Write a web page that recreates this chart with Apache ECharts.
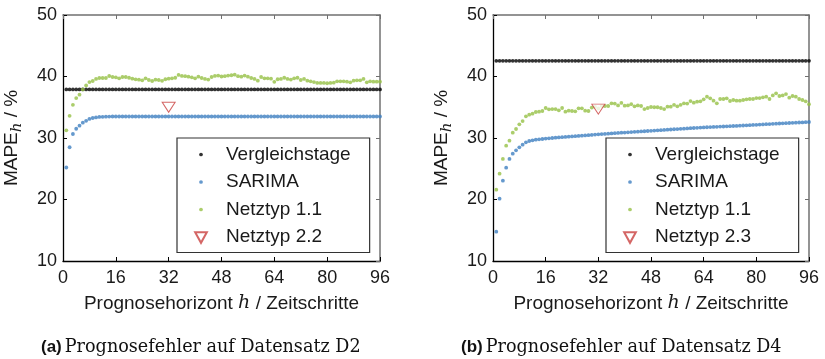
<!DOCTYPE html>
<html>
<head>
<meta charset="utf-8">
<script src="https://cdn.jsdelivr.net/npm/echarts@6/dist/echarts.min.js"></script>
<style>
  html, body { margin: 0; padding: 0; background: #fff; }
  #main { width: 825px; height: 359px; }
</style>
</head>
<body>
<div id="main"></div>
<script>
// Prognosehorizont h = 1..96 (x positions of the points)
const horizon = [];
for (let h = 1; h <= 96; h++) horizon.push(h);

// ---- (a) Datensatz D2 ----
const vergleichD2 = [
  37.9,37.9,37.9,37.9,37.9,37.9,37.9,37.9,37.9,37.9,37.9,37.9,37.9,37.9,37.9,37.9,
  37.9,37.9,37.9,37.9,37.9,37.9,37.9,37.9,37.9,37.9,37.9,37.9,37.9,37.9,37.9,37.9,
  37.9,37.9,37.9,37.9,37.9,37.9,37.9,37.9,37.9,37.9,37.9,37.9,37.9,37.9,37.9,37.9,
  37.9,37.9,37.9,37.9,37.9,37.9,37.9,37.9,37.9,37.9,37.9,37.9,37.9,37.9,37.9,37.9,
  37.9,37.9,37.9,37.9,37.9,37.9,37.9,37.9,37.9,37.9,37.9,37.9,37.9,37.9,37.9,37.9,
  37.9,37.9,37.9,37.9,37.9,37.9,37.9,37.9,37.9,37.9,37.9,37.9,37.9,37.9,37.9,37.9
];
const sarimaD2 = [
  25.2,28.5,30.65,31.5,32.0,32.5,32.8,33.1,33.25,33.35,33.42,33.45,33.47,33.48,33.5,33.5,
  33.5,33.5,33.5,33.5,33.5,33.5,33.5,33.5,33.5,33.5,33.5,33.5,33.5,33.5,33.5,33.5,
  33.5,33.5,33.5,33.5,33.5,33.5,33.5,33.5,33.5,33.5,33.5,33.5,33.5,33.5,33.5,33.5,
  33.5,33.5,33.5,33.5,33.5,33.5,33.5,33.5,33.5,33.5,33.5,33.5,33.5,33.5,33.5,33.5,
  33.5,33.5,33.5,33.5,33.5,33.5,33.5,33.5,33.5,33.5,33.5,33.5,33.5,33.5,33.5,33.5,
  33.5,33.5,33.5,33.5,33.5,33.5,33.5,33.5,33.5,33.5,33.5,33.5,33.5,33.5,33.5,33.5
];
const netz11D2 = [
  31.25,33.6,35.4,36.5,37.05,37.9,38.55,39.1,39.27,39.6,39.76,39.76,39.76,40.08,39.92,39.86,
  39.7,39.92,39.92,39.8,39.65,39.54,39.49,39.38,39.7,39.43,39.27,39.49,39.43,39.3,39.55,39.65,
  39.7,39.8,40.25,40.1,40.05,39.97,39.86,39.7,39.97,39.76,39.6,39.5,39.92,40.1,40.15,40.0,
  40.05,40.15,40.2,40.3,40.05,39.97,40.15,39.97,39.76,39.6,39.32,39.92,39.7,39.7,39.65,39.13,
  39.55,39.6,39.8,39.6,39.5,39.7,39.8,39.43,39.6,39.32,39.22,39.1,38.95,38.95,38.95,38.9,
  38.95,39.0,39.22,39.22,39.22,39.16,39.05,39.32,39.38,39.38,39.6,39.05,39.22,39.16,39.16,39.16
];
const netz22D2 = [[32, 35.0]];

// ---- (b) Datensatz D4 ----
const vergleichD4 = [
  42.55,42.55,42.55,42.55,42.55,42.55,42.55,42.55,42.55,42.55,42.55,42.55,42.55,42.55,42.55,42.55,
  42.55,42.55,42.55,42.55,42.55,42.55,42.55,42.55,42.55,42.55,42.55,42.55,42.55,42.55,42.55,42.55,
  42.55,42.55,42.55,42.55,42.55,42.55,42.55,42.55,42.55,42.55,42.55,42.55,42.55,42.55,42.55,42.55,
  42.55,42.55,42.55,42.55,42.55,42.55,42.55,42.55,42.55,42.55,42.55,42.55,42.55,42.55,42.55,42.55,
  42.55,42.55,42.55,42.55,42.55,42.55,42.55,42.55,42.55,42.55,42.55,42.55,42.55,42.55,42.55,42.55,
  42.55,42.55,42.55,42.55,42.55,42.55,42.55,42.55,42.55,42.55,42.55,42.55,42.55,42.55,42.55,42.55
];
const sarimaD4 = [
  14.77,20.13,23.06,25.18,26.59,27.45,28.0,28.48,28.92,29.3,29.51,29.62,29.73,29.78,29.84,29.9,
  29.95,30.0,30.06,30.1,30.14,30.18,30.22,30.26,30.3,30.34,30.38,30.42,30.46,30.5,30.55,30.6,
  30.64,30.67,30.71,30.75,30.78,30.82,30.86,30.89,30.93,30.96,31.0,31.03,31.07,31.1,31.14,31.17,
  31.21,31.24,31.28,31.31,31.35,31.38,31.42,31.45,31.49,31.52,31.56,31.59,31.63,31.66,31.7,31.72,
  31.75,31.77,31.8,31.82,31.85,31.87,31.9,31.92,31.95,31.97,32.0,32.03,32.06,32.09,32.12,32.15,
  32.18,32.21,32.24,32.27,32.3,32.33,32.36,32.38,32.41,32.44,32.46,32.49,32.52,32.54,32.57,32.6
];
const netz11D4 = [
  21.6,24.2,26.6,28.75,29.57,30.87,31.46,32.22,32.76,33.52,33.8,33.96,34.23,34.28,34.39,34.88,
  34.66,34.71,34.71,34.5,34.88,34.28,34.44,34.39,34.33,34.82,34.82,34.44,34.39,34.95,35.09,34.8,
  35.2,35.2,35.2,35.64,35.6,35.3,35.7,35.25,35.3,35.5,35.15,35.3,35.2,34.7,34.88,35.04,
  35.0,35.0,34.88,34.7,35.1,35.1,35.4,35.15,35.4,35.64,35.6,36.0,35.75,35.9,35.96,36.29,
  36.72,36.45,36.07,35.64,36.34,36.34,36.45,36.02,36.18,36.07,36.07,36.18,36.29,36.34,36.34,36.5,
  36.5,36.61,36.72,36.34,36.93,37.26,36.83,36.93,37.15,36.56,36.83,36.72,36.34,36.18,35.96,35.5
];
const netz23D4 = [[32, 34.7]];

const xTicks = { min: 0, max: 96, interval: 16 };
const yTicks = { min: 10, max: 50, interval: 10 };

const BLACK = '#000000';
const BLUE = '#3f7fc0';
const GREEN = '#96c046';
const RED = '#c9403e';
const SANS = 'Liberation Sans';

const dotIcon = 'path://M0,0M12,12M4.4,6A1.6,1.6 0 1 1 7.6,6A1.6,1.6 0 1 1 4.4,6Z';
const triIcon = 'path://M0,0M12,12M1,2L11,2L6,11Z';

function pts(vals) {
  return vals.map((v, i) => [horizon[i], v]);
}

var chartDom = document.getElementById('main');
var myChart = echarts.init(chartDom, null, { renderer: 'canvas' });

function bottomX(gi) {
  return {
    type: 'value', gridIndex: gi, min: xTicks.min, max: xTicks.max, interval: xTicks.interval,
    name: '{t|Prognosehorizont }{i|h}{t| / Zeitschritte}',
    nameLocation: 'middle', nameGap: 33,
    nameTextStyle: {
      rich: {
        t: { fontFamily: SANS, fontSize: 19, color: '#1a1a1a' },
        i: { fontFamily: 'DejaVu Serif', fontStyle: 'italic', fontSize: 19, color: '#1a1a1a' }
      }
    },
    axisLine: { show: true, onZero: false, lineStyle: { color: '#000', width: 1.3 } },
    axisTick: { show: true, inside: true, length: 4, lineStyle: { color: '#000' } },
    axisLabel: { fontFamily: SANS, fontSize: 18, color: '#1a1a1a', margin: 8 },
    splitLine: { show: false }
  };
}
function topX(gi) {
  return {
    type: 'value', gridIndex: gi, position: 'top', min: xTicks.min, max: xTicks.max, interval: xTicks.interval,
    axisLine: { show: true, onZero: false, lineStyle: { color: '#707070', width: 1.5 } },
    axisTick: { show: true, inside: true, length: 4, lineStyle: { color: '#707070' } },
    axisLabel: { show: false }, splitLine: { show: false }
  };
}
function leftY(gi) {
  return {
    type: 'value', gridIndex: gi, min: yTicks.min, max: yTicks.max, interval: yTicks.interval,
    name: '{t|MAPE}{i|h}{t| / %}',
    nameLocation: 'middle', nameGap: 38,
    nameTextStyle: {
      rich: {
        t: { fontFamily: SANS, fontSize: 19, color: '#1a1a1a', verticalAlign: 'bottom', padding: [0, 0, 4, 0] },
        i: { fontFamily: 'DejaVu Serif', fontStyle: 'italic', fontSize: 15, color: '#1a1a1a', verticalAlign: 'bottom' }
      }
    },
    axisLine: { show: true, onZero: false, lineStyle: { color: '#000', width: 1.3 } },
    axisTick: { show: true, inside: true, length: 4, lineStyle: { color: '#000' } },
    axisLabel: { fontFamily: SANS, fontSize: 18, color: '#1a1a1a', margin: 6 },
    splitLine: { show: false }
  };
}
function rightY(gi) {
  return {
    type: 'value', gridIndex: gi, position: 'right', min: yTicks.min, max: yTicks.max, interval: yTicks.interval,
    axisLine: { show: true, onZero: false, lineStyle: { color: '#707070', width: 1.5 } },
    axisTick: { show: true, inside: true, length: 4, lineStyle: { color: '#707070' } },
    axisLabel: { show: false }, splitLine: { show: false }
  };
}

function dots(name, vals, color, gi) {
  return {
    name: name, type: 'scatter', xAxisIndex: gi, yAxisIndex: gi,
    symbol: 'circle', symbolSize: 3.8, silent: true,
    itemStyle: { color: color },
    data: pts(vals)
  };
}
function tri(name, data, gi) {
  return {
    name: name, type: 'scatter', xAxisIndex: gi, yAxisIndex: gi,
    symbol: 'triangle', symbolRotate: 180, symbolSize: [13, 10], silent: true,
    itemStyle: { color: '#ffffff', borderColor: RED, borderWidth: 1 },
    z: 5,
    data: data
  };
}

function legendFor(left, last) {
  return {
    orient: 'vertical', left: left, top: 138,
    itemWidth: 14, itemHeight: 14, itemGap: 8.5,
    padding: [7, 19, 6, 16],
    borderColor: '#333', borderWidth: 1.2, backgroundColor: '#fff',
    selectedMode: false,
    textStyle: { fontFamily: SANS, fontSize: 19, color: '#1a1a1a', padding: [0, 0, 0, 13] },
    data: [
      { name: 'Vergleichstage', icon: dotIcon },
      { name: 'SARIMA', icon: dotIcon },
      { name: 'Netztyp 1.1', icon: dotIcon },
      { name: last, icon: triIcon }
    ]
  };
}

function caption(letter, text, left) {
  return {
    text: '{b|(' + letter + ')}{s|' + text + '}',
    left: left, top: 338, padding: 0,
    textStyle: {
      fontWeight: 'normal',
      rich: {
        b: { fontFamily: SANS, fontWeight: 'bold', fontSize: 17, color: '#111', padding: [0, 3, 0, 0] },
        s: { fontFamily: 'DejaVu Serif', fontWeight: 'normal', fontSize: 17.6, color: '#111' }
      }
    }
  };
}

var option = {
  animation: false,
  backgroundColor: '#ffffff',
  title: [
    caption('a', 'Prognosefehler auf Datensatz D2', 41),
    caption('b', 'Prognosefehler auf Datensatz D4', 461)
  ],
  grid: [
    { left: 63, top: 15, width: 317, height: 246 },
    { left: 493, top: 15, width: 316, height: 246 }
  ],
  xAxis: [bottomX(0), bottomX(1), topX(0), topX(1)],
  yAxis: [leftY(0), leftY(1), rightY(0), rightY(1)],
  legend: [legendFor(177, 'Netztyp 2.2'), legendFor(606, 'Netztyp 2.3')],
  series: [
    dots('Vergleichstage', vergleichD2, BLACK, 0),
    dots('SARIMA', sarimaD2, BLUE, 0),
    dots('Netztyp 1.1', netz11D2, GREEN, 0),
    tri('Netztyp 2.2', netz22D2, 0),
    dots('Vergleichstage', vergleichD4, BLACK, 1),
    dots('SARIMA', sarimaD4, BLUE, 1),
    dots('Netztyp 1.1', netz11D4, GREEN, 1),
    tri('Netztyp 2.3', netz23D4, 1)
  ]
};

option && myChart.setOption(option);
</script>
</body>
</html>
